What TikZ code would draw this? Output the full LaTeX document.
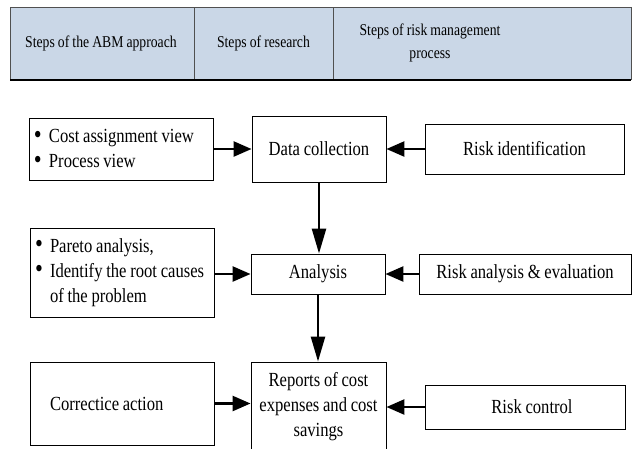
\documentclass[tikz,border=0pt]{standalone}
\usepackage{graphicx}
\usepackage{fontspec}
\setmainfont[FakeStretch=0.83,WordSpace={0.9,0,0}]{Liberation Serif}
\usetikzlibrary{arrows.meta}
\definecolor{headfill}{HTML}{CAD7E7}
\definecolor{headline}{HTML}{505050}
\newcommand{\boxfont}{\fontsize{20}{25}\selectfont}
\newcommand{\headfont}{\fontsize{16.5}{23}\selectfont}
\newcommand{\bul}{\makebox[15pt][l]{\raisebox{-0.5pt}{\scalebox{1.35}{\textbullet}}}}
\newcommand{\ind}{\hspace*{15pt}}
\newcommand{\lline}[1]{\makebox[174pt][l]{#1}}
\begin{document}
\begin{tikzpicture}[x=1pt,y=-1pt,
  box/.style={draw, line width=0.9pt, inner ysep=0pt, font=\boxfont},
  cbox/.style={box, align=center, inner xsep=0pt},
  lbox/.style={box, align=left, inner xsep=5pt},
  head/.style={font=\headfont, align=center, inner sep=0pt},
  harrow/.style={line width=2.5pt, -{Triangle[length=18pt,width=15pt]}},
  varrow/.style={line width=2.5pt, -{Triangle[length=25pt,width=14pt]}}]
\useasboundingbox (0,0) rectangle (632,448);
% header table
\fill[headfill] (10,7) rectangle (631,80);
\draw[headline, line width=0.9pt] (10,7) -- (631,7) (10,7) -- (10,80) (631,7) -- (631,80)
  (194,7) -- (194,80) (333,7) -- (333,80);
\draw[black, line width=1.4pt] (10,80) -- (631,80);
\node[head] (h1) at (101,43) {Steps of the ABM approach};
\node[head] (h2) at (263.5,43) {Steps of research};
\node[head] (h3) at (430,43) {Steps of risk management\\process};
% left column
\node[lbox, minimum height=62pt] (b1) at (121,149)
  {\lline{\bul Cost assignment view}\\\lline{\bul Process view}};
\node[lbox, minimum height=89pt] (b2) at (122,272.5)
  {\lline{\bul Pareto analysis,}\\\lline{\bul Identify the root causes}\\\lline{\ind of the problem}};
\node[lbox, minimum height=83pt] (b3) at (122,403.5) {\lline{\ind Correctice action}};
% middle column
\node[cbox, minimum width=134pt, minimum height=66pt] (dc) at (319,149) {Data collection};
\node[cbox, minimum width=134pt, minimum height=40pt] (an) at (318,274) {Analysis};
\node[cbox, minimum width=135pt, minimum height=90pt] (rep) at (318.5,407) {Reports of cost\\expenses and cost\\savings};
% right column
\node[cbox, minimum width=199pt, minimum height=50pt] (ri) at (524.5,149) {Risk identification};
\node[cbox, minimum width=212pt, minimum height=40pt] (ra) at (525,274) {Risk analysis \& evaluation};
\node[cbox, minimum width=200pt, minimum height=44pt] (rc) at (525,407) {\hspace*{14pt}Risk control};
% connectors
\draw[harrow] (b1) -- (dc);
\draw[harrow] (ri) -- (dc);
\draw[harrow] (b2.east |- an) -- (an);
\draw[harrow] (ra) -- (an);
\draw[harrow] (b3) -- (b3 -| rep.west);
\draw[harrow] (rc) -- (rep);
\draw[varrow] (dc.south) -- (dc.south |- an.north);
\draw[varrow] (an.south) -- (an.south |- rep.north);
\end{tikzpicture}
\end{document}
